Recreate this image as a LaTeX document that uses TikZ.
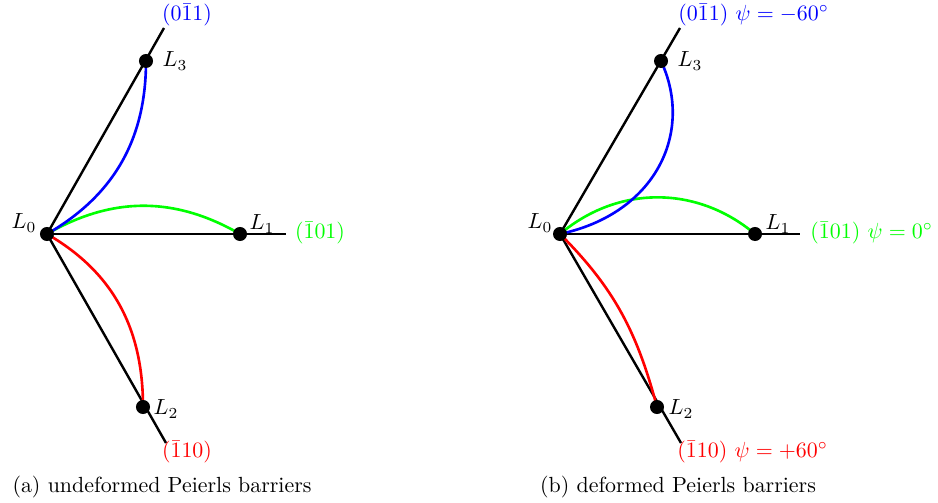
\documentclass[tikz,border=0pt]{standalone}
\begin{document}
\begin{tikzpicture}[x=0.4566pt,y=0.4566pt,
  axis/.style={line width=1.1pt,black},
  barrier/.style={line width=1.2pt},
  dot/.style={circle,fill=black,inner sep=0pt,minimum size=6.4pt},
  lab/.style={inner sep=0pt}]
\useasboundingbox (0,0) rectangle (938,-503);
% ---------- panel (a) ----------
\coordinate (aL0) at (47,-234);
\coordinate (aL1) at (240,-234);
\coordinate (aL3) at (146,-61);
\coordinate (aL2) at (143,-407);
\coordinate (aE1) at (286,-234);
\coordinate (aE3) at (164,-28);
\coordinate (aE2) at (166,-443);
\draw[axis] (aL0) -- (aE1);
\draw[axis] (aL0) -- (aE3);
\draw[axis] (aL0) -- (aE2);
\draw[barrier,green] (aL0) to[out=30,in=150] (aL1);
\draw[barrier,blue] (aL0) to[out=30,in=270] (aL3);
\draw[barrier,red] (aL0) to[out=-30,in=90] (aL2);
\node[dot] (aD0) at (aL0) {};
\node[dot] (aD1) at (aL1) {};
\node[dot] (aD2) at (aL2) {};
\node[dot] (aD3) at (aL3) {};
\node[lab] (aN0) at (24,-223) {$L_0$};
\node[lab] (aN1) at (262,-224) {$L_1$};
\node[lab] (aN3) at (175,-61) {$L_3$};
\node[lab] (aN2) at (166,-409) {$L_2$};
\node[lab,text=blue] (aT3) at (187,-15) {$(0\bar{1}1)$};
\node[lab,text=green] (aT1) at (320,-233) {$(\bar{1}01)$};
\node[lab,text=red] (aT2) at (187,-452) {$(\bar{1}10)$};
\node[lab] (capa) at (162,-487) {(a) undeformed Peierls barriers};
% ---------- panel (b) ----------
\coordinate (bL0) at (560,-234);
\coordinate (bL1) at (755,-234);
\coordinate (bL3) at (661,-61);
\coordinate (bL2) at (657,-407);
\coordinate (bE1) at (800,-234);
\coordinate (bE3) at (680,-28);
\coordinate (bE2) at (681,-443);
\draw[axis] (bL0) -- (bE1);
\draw[axis] (bL0) -- (bE3);
\draw[axis] (bL0) -- (bE2);
\draw[barrier,green] (bL0) to[out=40,in=140] (bL1);
\draw[barrier,blue] (bL0) to[out=12,in=-65,out looseness=1.25] (bL3);
\draw[barrier,red] (bL0) to[out=-45,in=105] (bL2);
\node[dot] (bD0) at (bL0) {};
\node[dot] (bD1) at (bL1) {};
\node[dot] (bD2) at (bL2) {};
\node[dot] (bD3) at (bL3) {};
\node[lab] (bN0) at (540,-223) {$L_0$};
\node[lab] (bN1) at (778,-224) {$L_1$};
\node[lab] (bN3) at (690,-61) {$L_3$};
\node[lab] (bN2) at (681,-409) {$L_2$};
\node[lab,text=blue,anchor=west] (bT3) at (678,-15) {$(0\bar{1}1)\ \psi=-60^\circ$};
\node[lab,text=green,anchor=west] (bT1) at (810,-233) {$(\bar{1}01)\ \psi=0^\circ$};
\node[lab,text=red,anchor=west] (bT2) at (677,-452) {$(\bar{1}10)\ \psi=+60^\circ$};
\node[lab] (capb) at (678,-487) {(b) deformed Peierls barriers};
\end{tikzpicture}
\end{document}
